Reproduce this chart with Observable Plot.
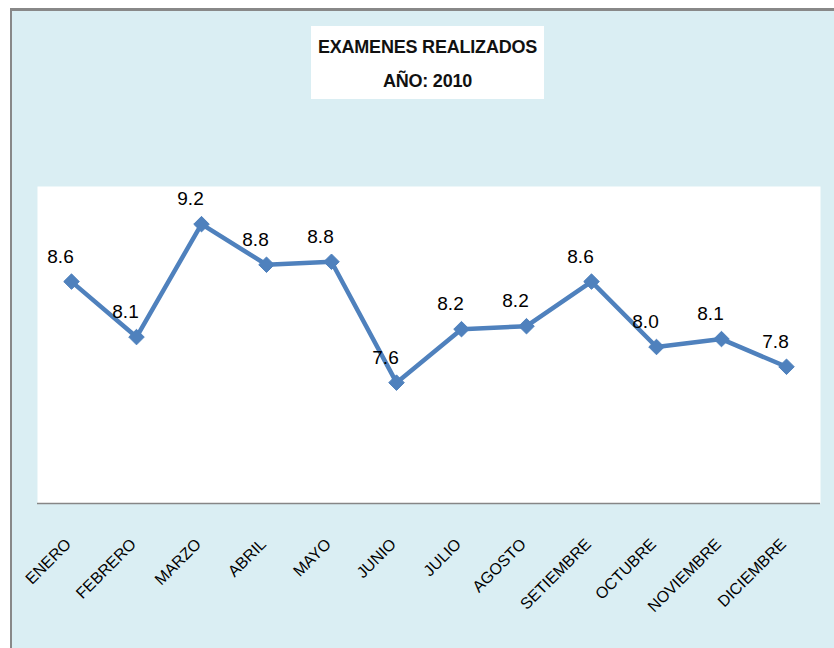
<!DOCTYPE html>
<html>
<head>
<meta charset="utf-8">
<script src="https://cdn.jsdelivr.net/npm/d3@7"></script>
<script src="https://cdn.jsdelivr.net/npm/@observablehq/plot@0.6"></script>
<style>
  html, body { margin: 0; padding: 0; background: #ffffff; }
  #page { position: relative; width: 834px; height: 648px; overflow: hidden; }
  #panel { position: absolute; left: 10px; top: 8px; width: 830px; height: 650px;
           background: #DAEEF3; border-left: 2px solid #888888; border-top: 3px solid #888888; }
  #title { position: absolute; left: 311px; top: 26px; width: 233px; height: 73px; background: #ffffff;
           box-sizing: border-box; padding-top: 4px; text-align: center;
           font-family: "Liberation Sans", Arial, sans-serif; font-weight: bold; font-size: 18px;
           line-height: 34px; color: #111; letter-spacing: -0.2px; }
  #chart { position: absolute; left: 0; top: 0; }
</style>
</head>
<body>
<div id="page">
  <div id="panel"></div>
  <div id="title">EXAMENES REALIZADOS<br>AÑO: 2010</div>
  <div id="chart"></div>
</div>
<script>
const months = ["ENERO", "FEBRERO", "MARZO", "ABRIL", "MAYO", "JUNIO", "JULIO", "AGOSTO", "SETIEMBRE", "OCTUBRE", "NOVIEMBRE", "DICIEMBRE"];
const values = [8.64, 8.08, 9.22, 8.81, 8.84, 7.62, 8.16, 8.19, 8.64, 7.98, 8.06, 7.78];
const yDomain = [6.4, 9.6];

const data = months.map((m, i) => ({month: m, value: values[i]}));
const blue = "#4F81BD";

const chart = Plot.plot({
  width: 834,
  height: 648,
  marginLeft: 37,
  marginRight: 14,
  marginTop: 186,
  marginBottom: 145,
  style: {background: "transparent", fontFamily: "'Liberation Sans', Arial, sans-serif", color: "#000", overflow: "visible"},
  x: {type: "point", domain: months, padding: 0.5, label: null},
  y: {domain: yDomain, axis: null},
  marks: [
    Plot.frame({fill: "#ffffff"}),
    Plot.ruleY([yDomain[0]], {stroke: "#868686", strokeWidth: 1.5}),
    Plot.axisX({tickSize: 0, tickPadding: 38, tickRotate: -45, dx: -3, fontSize: 16, fill: "#000", label: null}),
    Plot.line(data, {x: "month", y: "value", stroke: blue, strokeWidth: 4.5, strokeLinejoin: "round"}),
    Plot.dot(data, {x: "month", y: "value", symbol: "diamond2", r: 7, fill: blue, stroke: blue, strokeWidth: 1}),
    Plot.text(data, {x: "month", y: "value", text: d => d.value.toFixed(1), dx: -11, dy: -25, fontSize: 19, fill: "#000"})
  ]
});
document.getElementById("chart").appendChild(chart);
</script>
</body>
</html>
